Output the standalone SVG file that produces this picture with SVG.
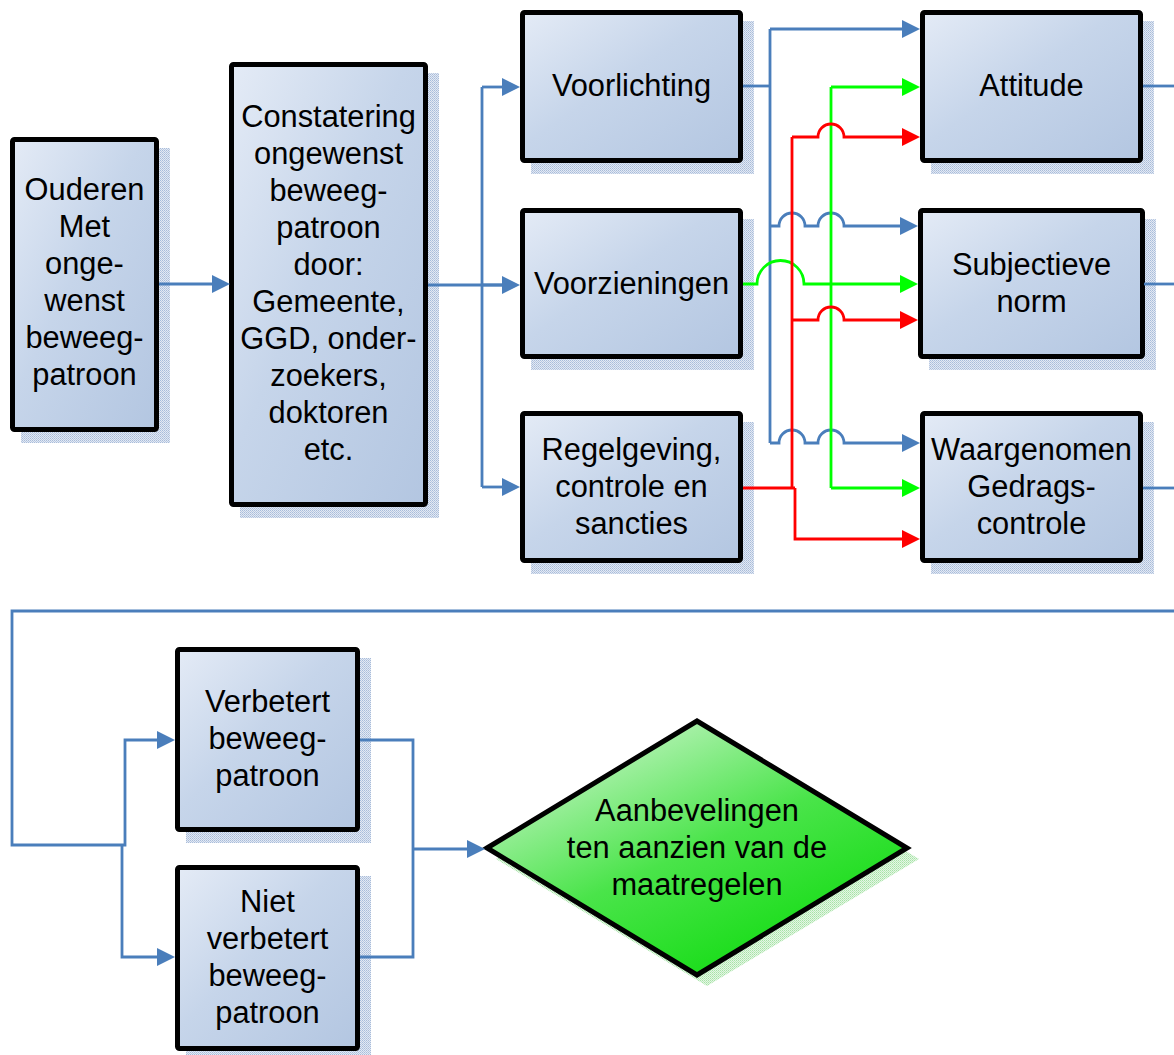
<svg xmlns="http://www.w3.org/2000/svg" width="1174" height="1055" viewBox="0 0 1174 1055">
<defs>
<linearGradient id="boxGrad" x1="0" y1="0" x2="1" y2="1">
<stop offset="0" stop-color="#e4ebf6"/>
<stop offset="0.45" stop-color="#c6d5ea"/>
<stop offset="1" stop-color="#b3c6e1"/>
</linearGradient>
<linearGradient id="diaGrad" x1="0.2" y1="0.1" x2="0.8" y2="0.9">
<stop offset="0" stop-color="#bdf3bd"/>
<stop offset="0.5" stop-color="#4ae44a"/>
<stop offset="1" stop-color="#12dc12"/>
</linearGradient>
<pattern id="shadowBlue" width="2" height="2" patternUnits="userSpaceOnUse">
<rect width="2" height="2" fill="#e3e9f3"/>
<rect width="1" height="1" fill="#a8bcda"/>
<rect x="1" y="1" width="1" height="1" fill="#b9c9e2"/>
</pattern>
<pattern id="shadowGreen" width="2" height="2" patternUnits="userSpaceOnUse">
<rect width="2" height="2" fill="#e4f6e4"/>
<rect width="1" height="1" fill="#a6e3a6"/>
<rect x="1" y="1" width="1" height="1" fill="#bdebbd"/>
</pattern>
<marker id="arrBlue" markerUnits="userSpaceOnUse" markerWidth="18" markerHeight="18" refX="8" refY="9" orient="auto"><path d="M0,0 L18,9 L0,18 z" fill="#4a7ebb"/></marker>
<marker id="arrGreen" markerUnits="userSpaceOnUse" markerWidth="18" markerHeight="18" refX="8" refY="9" orient="auto"><path d="M0,0 L18,9 L0,18 z" fill="#00ff00"/></marker>
<marker id="arrRed" markerUnits="userSpaceOnUse" markerWidth="18" markerHeight="18" refX="8" refY="9" orient="auto"><path d="M0,0 L18,9 L0,18 z" fill="#ff0000"/></marker>
</defs>
<style>
.shadow{fill:url(#shadowBlue);}
.box{fill:url(#boxGrad);stroke:#000;stroke-width:5;}
.lbl{font-family:"Liberation Sans",Arial,sans-serif;font-size:30.8px;fill:#000;text-anchor:middle;}
.c{fill:none;stroke-width:2.8;stroke-linejoin:miter;}
.b{stroke:#4a7ebb;}
.g{stroke:#00ff00;}
.r{stroke:#ff0000;}
</style>
<rect width="1174" height="1055" fill="#fff"/>

<g id="node-ouderen">
<rect class="shadow" x="21" y="148" width="149" height="295"/>
<rect class="box" x="12.5" y="139.5" width="144" height="290" rx="2"/>
<text class="lbl" x="84.5" y="200">Ouderen</text>
<text class="lbl" x="84.5" y="237">Met</text>
<text class="lbl" x="84.5" y="274">onge-</text>
<text class="lbl" x="84.5" y="311">wenst</text>
<text class="lbl" x="84.5" y="348">beweeg-</text>
<text class="lbl" x="84.5" y="385">patroon</text>
</g>

<g id="node-constatering">
<rect class="shadow" x="240" y="73" width="199" height="445"/>
<rect class="box" x="231.5" y="64.5" width="194" height="440" rx="2"/>
<text class="lbl" x="328.5" y="127">Constatering</text>
<text class="lbl" x="328.5" y="164">ongewenst</text>
<text class="lbl" x="328.5" y="201">beweeg-</text>
<text class="lbl" x="328.5" y="238">patroon</text>
<text class="lbl" x="328.5" y="275">door:</text>
<text class="lbl" x="328.5" y="312">Gemeente,</text>
<text class="lbl" x="328.5" y="349">GGD, onder-</text>
<text class="lbl" x="328.5" y="386">zoekers,</text>
<text class="lbl" x="328.5" y="423">doktoren</text>
<text class="lbl" x="328.5" y="460">etc.</text>
</g>

<g id="node-voorlichting">
<rect class="shadow" x="531" y="21" width="223" height="153"/>
<rect class="box" x="522.5" y="12.5" width="218" height="148" rx="2"/>
<text class="lbl" x="631.5" y="96">Voorlichting</text>
</g>

<g id="node-voorzieningen">
<rect class="shadow" x="531" y="219" width="223" height="151"/>
<rect class="box" x="522.5" y="210.5" width="218" height="146" rx="2"/>
<text class="lbl" x="631.5" y="294">Voorzieningen</text>
</g>

<g id="node-regelgeving">
<rect class="shadow" x="531" y="422" width="223" height="152"/>
<rect class="box" x="522.5" y="413.5" width="218" height="147" rx="2"/>
<text class="lbl" x="631.5" y="460">Regelgeving,</text>
<text class="lbl" x="631.5" y="497">controle en</text>
<text class="lbl" x="631.5" y="534">sancties</text>
</g>

<g id="node-attitude">
<rect class="shadow" x="931" y="21" width="223" height="153"/>
<rect class="box" x="922.5" y="12.5" width="218" height="148" rx="2"/>
<text class="lbl" x="1031.5" y="96">Attitude</text>
</g>

<g id="node-subjectieve">
<rect class="shadow" x="929" y="219" width="227" height="151"/>
<rect class="box" x="920.5" y="210.5" width="222" height="146" rx="2"/>
<text class="lbl" x="1031.5" y="275">Subjectieve</text>
<text class="lbl" x="1031.5" y="312">norm</text>
</g>

<g id="node-waargenomen">
<rect class="shadow" x="931" y="422" width="223" height="152"/>
<rect class="box" x="922.5" y="413.5" width="218" height="147" rx="2"/>
<text class="lbl" x="1031.5" y="460">Waargenomen</text>
<text class="lbl" x="1031.5" y="497">Gedrags-</text>
<text class="lbl" x="1031.5" y="534">controle</text>
</g>

<g id="node-verbetert">
<rect class="shadow" x="186" y="658" width="185" height="185"/>
<rect class="box" x="177.5" y="649.5" width="180" height="180" rx="2"/>
<text class="lbl" x="267.5" y="712">Verbetert</text>
<text class="lbl" x="267.5" y="749">beweeg-</text>
<text class="lbl" x="267.5" y="786">patroon</text>
</g>

<g id="node-niet-verbetert">
<rect class="shadow" x="186" y="876" width="185" height="179"/>
<rect class="box" x="177.5" y="867.5" width="180" height="181" rx="2"/>
<text class="lbl" x="267.5" y="912">Niet</text>
<text class="lbl" x="267.5" y="949">verbetert</text>
<text class="lbl" x="267.5" y="986">beweeg-</text>
<text class="lbl" x="267.5" y="1023">patroon</text>
</g>

<g id="node-aanbevelingen">
<polygon points="496,859 707,731 919,859 707,986" fill="url(#shadowGreen)"/>
<polygon points="487,848 697,721 907,848 697,975" fill="url(#diaGrad)" stroke="#000" stroke-width="5" stroke-linejoin="miter"/>
<text class="lbl" x="697" y="821">Aanbevelingen</text>
<text class="lbl" x="697" y="858">ten aanzien van de</text>
<text class="lbl" x="697" y="895">maatregelen</text>
</g>

<g id="connectors">
<path class="c b" d="M159,284 H220" marker-end="url(#arrBlue)"/>
<path class="c b" d="M428,285 H510"/>
<path class="c b" d="M482,87 V487"/>
<path class="c b" d="M482,87 H510" marker-end="url(#arrBlue)"/>
<path class="c b" d="M482,285 H510" marker-end="url(#arrBlue)"/>
<path class="c b" d="M482,487 H510" marker-end="url(#arrBlue)"/>

<path class="c b" d="M743,86 H770"/>
<path class="c b" d="M770,29 V443"/>
<path class="c b" d="M770,29 H910" marker-end="url(#arrBlue)"/>
<path class="c b" d="M770,226 H779 A13,13 0 0 1 805,226 H818 A13,13 0 0 1 844,226 H908" marker-end="url(#arrBlue)"/>
<path class="c b" d="M770,443 H779 A13,13 0 0 1 805,443 H818 A13,13 0 0 1 844,443 H910" marker-end="url(#arrBlue)"/>

<path class="c g" d="M743,284 H757 A23.5,23.5 0 0 1 804,284 H908" marker-end="url(#arrGreen)"/>
<path class="c g" d="M831,87 V488"/>
<path class="c g" d="M831,87 H910" marker-end="url(#arrGreen)"/>
<path class="c g" d="M831,488 H910" marker-end="url(#arrGreen)"/>

<path class="c r" d="M743,488 H795"/>
<path class="c r" d="M792,137 V488"/>
<path class="c r" d="M792,137 H818 A13,13 0 0 1 844,137 H910" marker-end="url(#arrRed)"/>
<path class="c r" d="M792,320 H818 A13,13 0 0 1 844,320 H908" marker-end="url(#arrRed)"/>
<path class="c r" d="M795,488 V539 H910" marker-end="url(#arrRed)"/>

<path class="c b" d="M1143,86 H1174"/>
<path class="c b" d="M1144,284 H1174"/>
<path class="c b" d="M1143,488 H1174"/>
<path class="c b" d="M1174,611 H12 V845 H125 V740 H165" marker-end="url(#arrBlue)"/>
<path class="c b" d="M122,845 V957 H165" marker-end="url(#arrBlue)"/>
<path class="c b" d="M360,740 H413 V957 H360"/>
<path class="c b" d="M413,849 H475" marker-end="url(#arrBlue)"/>
</g>
</svg>
